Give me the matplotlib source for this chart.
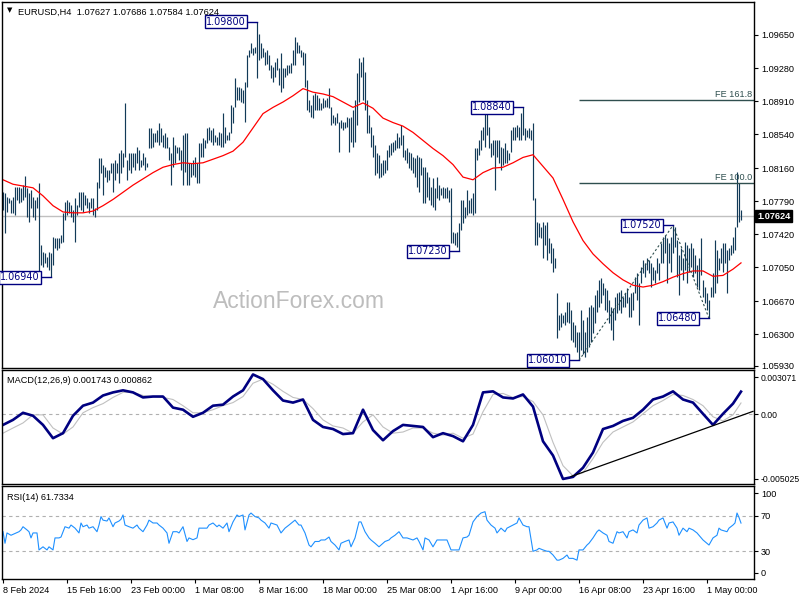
import numpy as np
import matplotlib
matplotlib.use("Agg")
import matplotlib.pyplot as plt

# EURUSD H4 bars, highs / lows in pips above 1.0000
highs = [
    789, 788, 784, 783, 780, 784, 795, 795, 795, 794,
    797, 807, 794, 788, 792, 784, 780, 784, 799, 730,
    722, 721, 717, 722, 721, 739, 738, 738, 738, 741,
    766, 778, 780, 778, 775, 769, 783, 775, 789, 789,
    789, 786, 783, 778, 783, 783, 771, 801, 827, 827,
    820, 817, 814, 814, 822, 822, 825, 822, 833, 836,
    833, 889, 825, 833, 833, 833, 833, 840, 836, 825,
    833, 829, 822, 861, 861, 855, 855, 859, 866, 861,
    853, 855, 851, 840, 833, 851, 842, 840, 840, 836,
    853, 855, 855, 822, 822, 825, 829, 822, 844, 844,
    850, 847, 861, 862, 859, 861, 853, 851, 856, 855,
    878, 862, 853, 856, 887, 884, 917, 907, 907, 906,
    903, 912, 943, 948, 956, 950, 952, 980, 966, 956,
    950, 946, 948, 943, 931, 929, 935, 939, 928, 945,
    928, 928, 931, 931, 934, 948, 963, 957, 954, 948,
    946, 945, 915, 892, 887, 898, 900, 898, 895, 889,
    895, 892, 895, 906, 884, 875, 873, 878, 868, 870,
    868, 868, 873, 872, 873, 881, 892, 922, 939, 935,
    940, 924, 892, 875, 862, 853, 842, 833, 831, 822,
    825, 825, 836, 842, 844, 845, 847, 855, 851, 864,
    853, 836, 839, 834, 833, 829, 827, 831, 829, 827,
    817, 817, 812, 806, 795, 805, 794, 806, 797, 794,
    795, 794, 795, 792, 794, 745, 743, 745, 755, 780,
    780, 773, 792, 780, 783, 788, 839, 839, 847, 859,
    862, 881, 880, 862, 844, 847, 847, 847, 847, 840,
    839, 844, 836, 833, 859, 862, 862, 864, 862, 878,
    884, 861, 859, 861, 859, 866, 783, 756, 755, 750,
    756, 752, 756, 738, 732, 727, 715, 676, 652, 654,
    652, 655, 666, 666, 657, 644, 641, 633, 633, 657,
    646, 633, 650, 661, 663, 661, 674, 680, 691, 693,
    687, 682, 680, 668, 661, 660, 672, 676, 677, 680,
    672, 676, 682, 672, 676, 677, 694, 699, 687, 705,
    713, 710, 715, 713, 710, 705, 702, 716, 710, 732,
    739, 741, 738, 732, 739, 752, 750, 736, 719, 727,
    716, 733, 730, 727, 732, 727, 719, 708, 716, 738,
    691, 683, 676, 668, 683, 699, 736, 724, 715, 727,
    732, 732, 724, 727, 730, 739, 750, 812, 799, 769,
]
lows = [
    769, 743, 767, 777, 766, 766, 764, 780, 777, 778,
    780, 784, 761, 756, 771, 761, 758, 771, 700, 708,
    705, 710, 705, 702, 694, 708, 727, 724, 727, 732,
    733, 758, 764, 766, 761, 756, 733, 764, 772, 769,
    767, 775, 771, 766, 771, 764, 761, 769, 794, 811,
    786, 806, 801, 803, 811, 789, 803, 811, 799, 811,
    817, 829, 803, 814, 811, 817, 814, 822, 814, 817,
    820, 814, 817, 839, 839, 840, 845, 845, 842, 845,
    840, 839, 839, 825, 797, 817, 822, 833, 825, 814,
    797, 812, 797, 797, 806, 808, 806, 799, 799, 829,
    829, 839, 844, 847, 845, 842, 845, 842, 842, 840,
    840, 844, 847, 847, 855, 867, 884, 892, 892, 890,
    889, 868, 907, 940, 945, 943, 945, 917, 937, 939,
    940, 931, 932, 926, 917, 912, 918, 926, 909, 901,
    906, 918, 920, 923, 922, 931, 931, 945, 945, 940,
    931, 907, 881, 879, 873, 872, 881, 881, 881, 881,
    883, 884, 884, 883, 864, 867, 864, 867, 834, 861,
    859, 861, 862, 834, 845, 840, 845, 864, 890, 918,
    892, 881, 855, 855, 840, 829, 808, 811, 805, 806,
    808, 811, 814, 829, 831, 834, 836, 839, 839, 842,
    829, 825, 822, 816, 814, 811, 806, 795, 789, 808,
    777, 777, 784, 780, 775, 772, 769, 783, 780, 786,
    783, 783, 783, 778, 732, 732, 730, 728, 723, 747,
    755, 760, 764, 766, 766, 764, 766, 825, 831, 836,
    847, 840, 853, 839, 829, 831, 792, 829, 822, 814,
    820, 822, 822, 825, 834, 847, 848, 851, 848, 848,
    853, 848, 851, 850, 848, 780, 730, 730, 739, 738,
    716, 730, 713, 721, 710, 700, 704, 626, 635, 638,
    643, 641, 644, 643, 624, 621, 616, 610, 601, 612,
    608, 605, 610, 616, 621, 632, 643, 655, 661, 665,
    674, 657, 655, 643, 635, 624, 646, 654, 657, 654,
    661, 661, 665, 650, 650, 657, 676, 668, 641, 687,
    699, 694, 702, 699, 683, 691, 687, 699, 691, 710,
    710, 721, 687, 710, 700, 721, 728, 694, 674, 702,
    691, 702, 687, 700, 705, 694, 699, 683, 680, 696,
    672, 665, 657, 648, 672, 672, 676, 687, 702, 710,
    700, 710, 676, 713, 719, 721, 724, 750, 756, 758,
]

# moving average (red) read every 5 bars, pips above 1.0000
ma_idx = list(range(0, 370, 5)) + [369]
ma_pips = [
    803, 798, 796, 794, 785, 774, 767, 766, 766, 768,
    774, 781, 789, 797, 804, 811, 817, 820, 822, 821,
    822, 826, 830, 835, 845, 861, 877, 884, 890, 897,
    905, 901, 899, 896, 890, 884, 889, 883, 872, 867,
    863, 856, 847, 838, 830, 820, 806, 803, 811, 816,
    817, 822, 828, 831, 818, 805, 781, 756, 735, 720,
    709, 699, 691, 685, 683, 685, 689, 694, 698, 701,
    701, 695, 696, 703, 710,
]

# MACD(12,26,9), units of 0.0001, same bar positions as ma_idx
macd_main = [
    -8.4, -4.5, 1.0, -1.3, -8.4, -18.7, -14.8, -1.3, 6.5, 8.9,
    14.4, 16.8, 18.4, 16.8, 12.9, 13.6, 13.6, 5.0, 3.4, -2.1,
    1.0, 6.5, 7.3, 13.6, 18.4, 30.7, 27.1, 18.4, 10.5, 8.9,
    11.3, -4.5, -10.0, -11.6, -15.5, -14.8, 3.4, -12.4, -20.3, -13.2,
    -8.4, -9.2, -10.0, -17.9, -14.8, -17.1, -21.1, -8.4, 16.8, 17.6,
    12.9, 12.1, 15.2, 5.8, -21.1, -32.1, -50.3, -48.7, -41.6, -29.8,
    -11.6, -9.2, -5.3, -2.9, 3.4, 11.3, 13.6, 17.6, 11.3, 8.9,
    0.2, -8.4, 0.2, 8.1, 17.4,
]
macd_signal = [
    -14.8, -10.8, -6.9, -0.6, -0.6, -10.8, -15.5, -10.0, 1.0, 5.0,
    8.1, 12.9, 16.8, 16.8, 14.4, 13.6, 12.9, 11.3, 6.5, 1.0,
    1.0, 3.4, 6.5, 8.9, 13.6, 23.9, 27.1, 23.1, 17.6, 12.9,
    11.3, 4.2, -4.5, -9.2, -10.8, -14.8, -6.1, -0.6, -10.0, -14.8,
    -13.9, -10.8, -10.8, -14.8, -16.3, -14.8, -18.7, -15.5, 1.8, 15.2,
    16.0, 12.9, 13.6, 9.7, -0.6, -21.9, -40.0, -47.9, -45.5, -34.5,
    -21.9, -13.9, -10.0, -6.1, 0.2, 6.5, 10.5, 15.2, 14.4, 11.3,
    6.5, -2.1, -5.3, -0.6, 8.6,
]
macd_trend_idx = [284, 375]
macd_trend_val = [-48.4, 2.1]

# RSI(14)
rsi_idx = [
    0, 1, 2, 4, 6, 8, 9, 10, 12, 13, 14, 15, 17, 18, 20, 22, 23, 25, 26, 28,
    29, 31, 33, 34, 36, 38, 39, 40, 42, 43, 45, 47, 48, 49, 50, 52, 53, 55, 56, 58,
    59, 60, 61, 63, 65, 67, 68, 70, 72, 73, 75, 77, 78, 80, 82, 83, 85, 87, 88, 90,
    92, 93, 95, 97, 98, 100, 102, 103, 105, 107, 108, 110, 112, 113, 115, 117, 118, 120, 121, 123,
    124, 126, 128, 129, 131, 133, 134, 137, 139, 141, 143, 146, 148, 149, 151, 153, 154, 156, 158, 159,
    161, 163, 164, 166, 168, 169, 171, 173, 174, 176, 178, 179, 181, 183, 184, 186, 188, 189, 191, 193,
    194, 196, 198,
    200, 202, 205, 207, 208, 210, 211, 213, 215, 217, 220, 222, 224, 227, 228, 230, 232, 233, 235, 237,
    239, 241, 242, 244, 246, 247, 249, 251, 252, 255, 257, 258, 260, 262, 263, 265, 267, 268, 270, 272,
    273, 275, 277, 278, 280, 282, 283, 285, 287, 288, 290, 292, 293, 295, 297, 298, 300, 302, 303, 305,
    307, 308, 310, 312, 313, 315, 317, 318, 320, 322, 323, 325, 327, 328, 330, 332, 333, 335, 337, 338,
    340, 342, 343, 345, 347, 348, 350, 352, 353, 355, 357, 358, 359, 362, 363, 365, 366, 367, 368, 369,
]
rsi_vals = [
    52, 39, 50.6, 48, 50, 52, 54, 57.6, 54, 52, 45, 50.6, 50.6, 31.5, 35, 31.5, 35, 31.5, 45, 45,
    46, 57.6, 56, 59.5, 56, 50.6, 61.8, 57.6, 59.5, 56, 57.6, 52, 59.5, 69, 65, 64, 67.5, 57.6, 61.8, 64,
    66, 70.8, 59.5, 57.6, 56, 59.5, 56, 52, 59.5, 65, 61.8, 61.8, 59.5, 56, 50.6, 39, 52, 52, 50.6, 57.6,
    41, 45, 43, 45, 56, 56, 56, 59.5, 61.8, 57.6, 59.5, 56, 61.8, 52, 63, 70.8, 69, 70.8, 54, 70.8,
    73, 69, 67.5, 65, 61.8, 56, 61.8, 59.5, 50.6, 56, 59.5, 65, 59.5, 59.5, 50.6, 37, 35, 41, 41, 42.7,
    42.7, 46, 41, 37, 31.5, 39, 41, 42.7, 35, 45, 63, 63, 52, 45, 42.7, 39, 35, 37, 41, 42.7,
    45, 48, 52,
    45, 45, 42.7, 45, 41, 31.5, 45, 42.7, 35, 42.7, 42.7, 42.7, 31.5, 31.5, 31.5, 45, 46, 48, 63, 69,
    73, 74.5, 65, 59.5, 56, 50.6, 56, 52, 56, 59.5, 61.8, 67.5, 59.5, 57.6, 57.6, 30, 31.5, 33.3, 31.5, 30,
    30, 25.8, 20, 20, 22, 25.8, 22, 22, 20, 31.5, 31.5, 37, 39, 45, 52, 54, 50.6, 48, 41, 39,
    52, 50.6, 52, 45, 52, 54, 50.6, 59.5, 65, 67.5, 56, 57.6, 61.8, 65, 67.5, 56, 61.8, 63, 56, 48,
    56, 52, 56, 54, 50.6, 48, 42.7, 39, 37, 45, 48, 56, 54, 52, 56, 59.5, 61.8, 73, 68, 61.7,
]

date_labels = ["8 Feb 2024", "15 Feb 16:00", "23 Feb 00:00", "1 Mar 08:00",
               "8 Mar 16:00", "18 Mar 00:00", "25 Mar 08:00", "1 Apr 16:00",
               "9 Apr 00:00", "16 Apr 08:00", "23 Apr 16:00", "1 May 00:00"]
date_idx = list(range(0, 353, 32))

price_ticks = [1.09650, 1.09280, 1.08910, 1.08540, 1.08160, 1.07790,
               1.07420, 1.07050, 1.06670, 1.06300, 1.05930]
last_price = 1.07624

# swing labels: text, bar index, price
swings = [("1.09800", 127, 1.09800), ("1.06940", 24, 1.06940),
          ("1.07230", 228, 1.07230), ("1.08840", 260, 1.08840),
          ("1.07520", 335, 1.07520), ("1.06480", 353, 1.06480),
          ("1.06010", 288, 1.06010)]

# FE projection from 1.0601 -> 1.0752, off 1.0648
fe_a, fe_b, fe_c = 1.0601, 1.0752, 1.0648
fe_ratios = [1.0, 1.618]
fe_names = ["FE 100.0", "FE 161.8"]

bar_col = "#123a58"
navy = "#000080"
AX = ["Liberation Sans", "DejaVu Sans"]

highs_p = 1 + np.array(highs) / 10000
lows_p = 1 + np.array(lows) / 10000
ma_p = 1 + np.array(ma_pips) / 10000
macd_v = np.array(macd_main) / 10000
sig_v = np.array(macd_signal) / 10000

fig = plt.figure(figsize=(8, 6), dpi=100)
ax = fig.add_axes([2 / 800, 232 / 600, 752 / 800, 366 / 600])
ax2 = fig.add_axes([2 / 800, 116 / 600, 752 / 800, 114 / 600])
ax3 = fig.add_axes([2 / 800, 21 / 600, 752 / 800, 93 / 600])

for a in (ax, ax2, ax3):
    a.set_xlim(-0.5, 375.5)
    for s in a.spines.values():
        s.set_linewidth(1.0)
        s.set_color("black")
    a.yaxis.tick_right()
    a.tick_params(axis="y", direction="out", length=3, width=0.8, pad=2, labelsize=6.6)
    a.tick_params(axis="x", bottom=False, labelbottom=False)

# main price panel
ax.set_ylim(1.05924, 1.10019)
ax.axhline(last_price, color="#c0c0c0", lw=1)
ax.vlines(np.arange(len(highs)), lows_p, highs_p, color=bar_col, lw=0.85)
ax.plot(ma_idx, ma_p, color="red", lw=0.9)

for r, name in zip(fe_ratios, fe_names):
    lvl = fe_c + r * (fe_b - fe_a)
    ax.hlines(lvl, 288, 375.5, color="#2f4f4f", lw=1)
    ax.text(374.5, lvl + 0.0001, name, ha="right", va="bottom", fontsize=6.6,
            color="#2f4f4f", family=AX)

ax.plot([288, 335, 353], [fe_a, fe_b, fe_c], color="#2f4f4f", lw=0.8, ls=(0, (2, 2)))

for txt, i, p in swings:
    ax.plot([i - 5, i], [p, p], color=navy, lw=1)
    ax.text(i - 5.5, p, txt, ha="right", va="center", fontsize=6.9, color=navy,
            family="DejaVu Sans",
            bbox=dict(boxstyle="square,pad=0.15", fc="white", ec=navy, lw=1))

# lowest label sits a little above its level, as on the terminal scale
tick_pos = price_ticks[:-1] + [1.05948]
ax.set_yticks(tick_pos)
ax.set_yticklabels([f"{v:.5f}" for v in price_ticks], family=AX)
ax.text(1.004, last_price, f"{last_price:.5f}", transform=ax.get_yaxis_transform(),
        ha="left", va="center", fontsize=6.6, color="white", fontweight="bold",
        family=AX, bbox=dict(boxstyle="square,pad=0.2", fc="black", ec="black"))

ax.text(0.395, 0.183, "ActionForex.com", transform=ax.transAxes, ha="center",
        va="center", fontsize=16.5, color="#bdbdbd", family=AX)
ax.text(0.006, 0.985, "\u25bc", transform=ax.transAxes, ha="left", va="top",
        fontsize=5, family="DejaVu Sans")
ax.text(0.021, 0.985, "EURUSD,H4  1.07627 1.07686 1.07584 1.07624",
        transform=ax.transAxes, ha="left", va="top", fontsize=6.7, family=AX)

# MACD panel
ax2.set_ylim(-0.00542, 0.003416)
ax2.axhline(0, color="#b0b0b0", lw=0.8, ls=(0, (3, 3)))
ax2.plot(ma_idx, sig_v, color="#c0c0c0", lw=0.8)
ax2.plot(ma_idx, macd_v, color=navy, lw=1.9)
ax2.plot(macd_trend_idx, np.array(macd_trend_val) / 10000, color="black", lw=0.9)
ax2.set_yticks([0.00285, 0.0, -0.00500])
ax2.set_yticklabels(["0.003071", "0.00", "-0.005025"], family=AX)
ax2.tick_params(axis="y", labelsize=6.2, pad=1.5)
ax2.text(0.006, 0.95, "MACD(12,26,9) 0.001743 0.000862", transform=ax2.transAxes,
         ha="left", va="top", fontsize=6.6, family=AX)

# RSI panel
ax3.set_ylim(-1.2, 103.4)
for lv in (30, 70):
    ax3.axhline(lv, color="#b0b0b0", lw=0.8, ls=(0, (3, 3)))
ax3.plot(rsi_idx, rsi_vals, color="#1e90ff", lw=0.8)
ax3.set_yticks([6, 30, 70, 95.5])
ax3.set_yticklabels(["0", "30", "70", "100"], family=AX)
ax3.text(0.006, 0.93, "RSI(14) 61.7334", transform=ax3.transAxes,
         ha="left", va="top", fontsize=6.6, family=AX)

ax3.tick_params(axis="x", bottom=True, labelbottom=True, direction="out",
                length=3, width=0.8, pad=2, labelsize=6.6)
ax3.set_xticks(date_idx)
ax3.set_xticklabels(date_labels, ha="left", family=AX)

fig.savefig("out.png", dpi=100, facecolor="white")
